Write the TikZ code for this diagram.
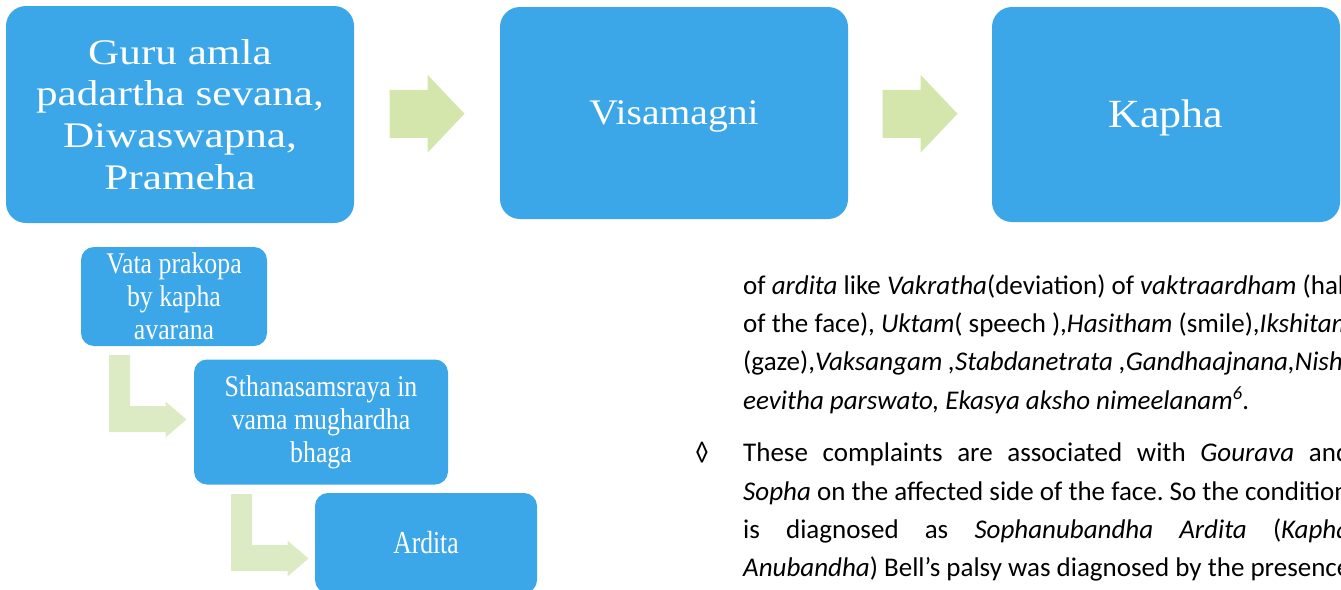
\documentclass[tikz,border=0pt]{standalone}
\usepackage{fontspec}
\setmainfont{Carlito}
\newfontfamily\guruserif[FakeStretch=1.2]{Liberation Serif}
\newfontfamily\topserif[FakeStretch=1.1]{Liberation Serif}
\newfontfamily\lowserif[FakeStretch=0.86]{Liberation Serif}
\newfontfamily\arditaserif[FakeStretch=0.8]{Liberation Serif}
\usetikzlibrary{calc}
\usetikzlibrary{positioning}
\definecolor{boxblue}{RGB}{59,166,232}
\definecolor{arrowgreen}{RGB}{213,230,172}
\definecolor{lightgreen}{RGB}{221,235,196}
\newcommand{\jl}[1]{\makebox[607pt][s]{#1}}
\frenchspacing

\begin{document}
\begin{tikzpicture}[
        x=1pt, y=-1pt,
        box/.style={rectangle, rounded corners=20pt, fill=boxblue, text=white, align=center, inner sep=0},
        smallbox/.style={box, rounded corners=13pt},
        txtline/.style={anchor=base west, inner sep=0, font=\fontsize{27}{32}\selectfont},
        rarrow/.pic={\fill[arrowgreen] (-37.5,-24) -- (0.5,-24) -- (0.5,-39) -- (37.5,0) -- (0.5,39) -- (0.5,24) -- (-37.5,24) -- cycle;},
        bentarrow/.pic={\fill[lightgreen] (0,0) -- (21,0) -- (21,51) -- (56.5,51) -- (56.5,46.5) -- (77.5,64.5) -- (56.5,82.5) -- (56.5,77) -- (0,77) -- cycle;}
    ]
        \useasboundingbox (0,0) rectangle (1341,589);
        \clip (0,0) rectangle (1341,589);

        % 上排方框
        \node[box, minimum width=348, minimum height=217, font=\guruserif\fontsize{36}{41.7}\selectfont] (guru) at (180,114.5) {Guru amla\\padartha sevana,\\Diwaswapna,\\Prameha};
        \node[box, minimum width=348, minimum height=212, text height=23, text depth=0, font=\topserif\fontsize{36}{42}\selectfont] (visam) at (674,113) {Visamagni};
        \node[box, minimum width=348, minimum height=215, text height=26, text depth=0, font=\topserif\fontsize{40}{48}\selectfont] (kapha) at (1166,114.5) {Kapha};

        % 上排箭头
        \pic at ($(guru.east)!0.5!(visam.west)$) {rarrow};
        \pic at ($(visam.east)!0.5!(kapha.west)$) {rarrow};

        % 下排方框
        \node[smallbox, minimum width=186, minimum height=99, font=\lowserif\fontsize{30}{33}\selectfont] (vata) at (174,296.5) {Vata prakopa\\by kapha\\avarana};
        \node[smallbox, minimum width=254, minimum height=125, font=\lowserif\fontsize{30}{33}\selectfont] (sthana) at (321,422) {Sthanasamsraya in\\vama mughardha\\bhaga};
        \node[smallbox, minimum width=222, minimum height=100, text height=21, text depth=0, font=\arditaserif\fontsize{32}{36}\selectfont] (ardita) at (426,543) {Ardita};

        % 折线箭头
        \pic at (109,355) {bentarrow};
        \pic at (231,494) {bentarrow};

        % 右侧正文:名称/基线/内容
        \def\textlines{
            l1/294/{of \textit{ardita} like \textit{Vakratha}(deviation) of \textit{vaktraardham} (half},
            l2/332.4/{of the face), \textit{Uktam}( speech ),\textit{Hasitham} (smile),\textit{Ikshitam}},
            l3/370.7/{(gaze),\textit{Vaksangam ,Stabdanetrata ,Gandhaajnana,Nishth}},
            l4/409/{\textit{eevitha parswato, Ekasya aksho nimeelanam\textsuperscript{6}.}},
            l5/461.7/{\jl{These complaints are associated with \textit{Gourava} and}},
            l6/500/{\textit{Sopha} on the affected side of the face. So the condition},
            l7/538.3/{\jl{is diagnosed as \textit{Sophanubandha Ardita} (\textit{Kapha}}},
            l8/576.6/{\textit{Anubandha}) Bell’s palsy was diagnosed by the presence}
        }
        \foreach \nm/\y/\txt in \textlines {
            \node[txtline] (\nm) at (743,\y) {\txt};
        }
        \node[txtline] (lozenge) at (695,461.7) {◊};

    \end{tikzpicture}
\end{document}
